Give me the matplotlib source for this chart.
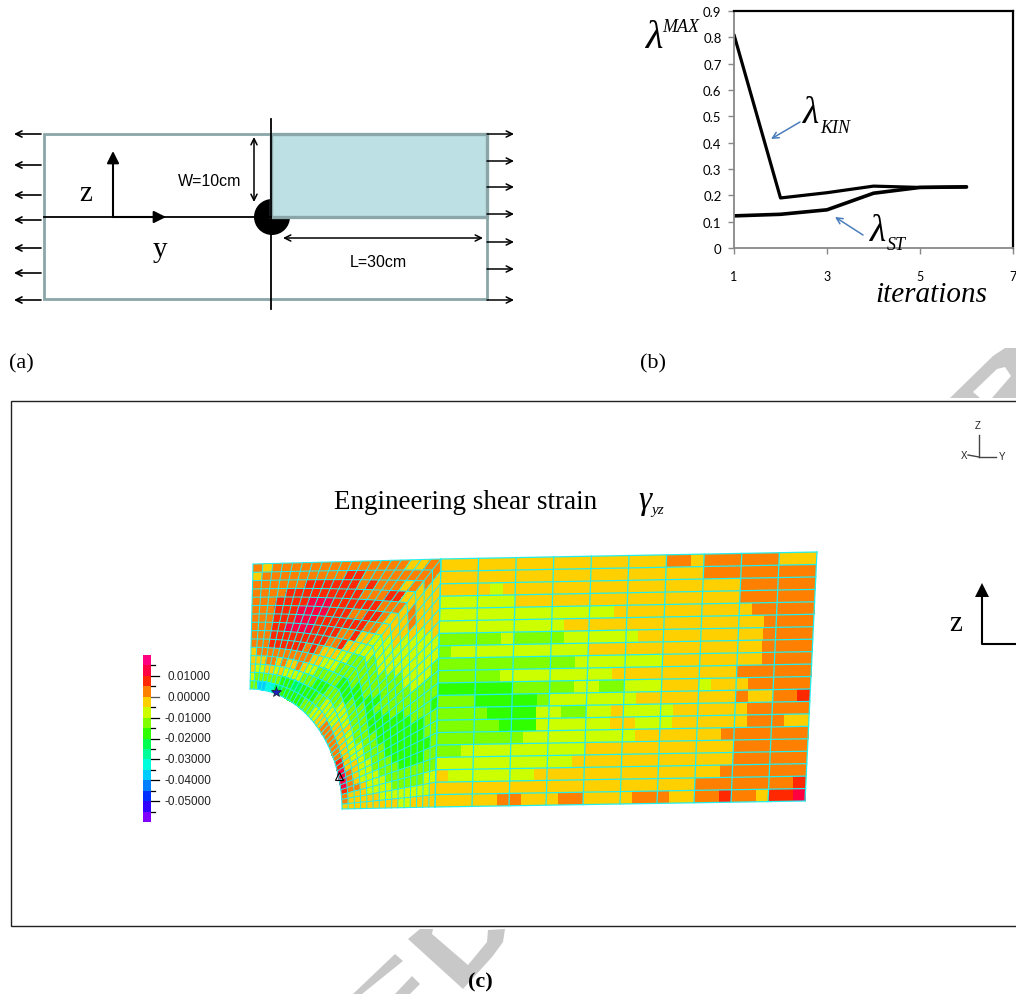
import numpy as np
import matplotlib
matplotlib.use('Agg')
import matplotlib.pyplot as plt
from matplotlib.colors import ListedColormap
from matplotlib.patches import Circle, Polygon, Rectangle

SERIF = 'Liberation Serif'
SANS = 'Liberation Sans'

# (b) convergence curves
iterations = [1, 2, 3, 4, 5, 6]
lambda_kin = [0.81, 0.19, 0.21, 0.235, 0.23, 0.232]
lambda_st = [0.122, 0.128, 0.145, 0.208, 0.23, 0.232]
y_ticks = [0, 0.1, 0.2, 0.3, 0.4, 0.5, 0.6, 0.7, 0.8, 0.9]
y_labels = ['0', '0.1', '0.2', '0.3', '0.4', '0.5', '0.6', '0.7', '0.8', '0.9']
x_ticks = [1, 3, 5, 7]

# (c) contour levels, top of the colour bar first
level_chars = 'PMROYLGgTSCBbnvV'
level_colors = ['#ff0080', '#ff0040', '#ff2800', '#ff8000', '#ffd000', '#ccff00', '#80ff00', '#30ff00',
                '#00ff50', '#00ff99', '#00ffdd', '#00ccff', '#0080ff', '#0030ff', '#3000ff', '#8000ff']
legend_labels = ['0.01000', '0.00000', '-0.01000', '-0.02000', '-0.03000', '-0.04000', '-0.05000']

# curved block round the hole: outermost layer first, left edge -> corner -> bottom edge
hole_cells = [
    'OYOOOOOOOOOOO' 'OOOYYOOYYYYYL' 'LGGGgGGGGGLYY',
    'YOOOOOOOOORRO' 'OOOOOOOYYYYLL' 'LLGGGGGgGGLLY',
    'OOOOOORRRRRRO' 'ROOOYOYYYYLLL' 'LLGGGggggGGLY',
    'OOOORRRRRRRRR' 'OOORRYYOOYLLL' 'LLGGGggggGGLY',
    'OOORRRRMMMRRR' 'RRROOOYYYLLLL' 'LGGGgggggGGLL',
    'OOORRRMMMMRRR' 'OORROYYYYLLLG' 'GGGggggggGGLL',
    'OOORRRMMMRRRR' 'RRROOYYLLLLGG' 'GGGgggggGGGLY',
    'OOORRMMMMRRRR' 'OORYYLLLLLGGG' 'GGgggggGGGLLY',
    'OOORRRRRRRRRO' 'ORYYLLLGGGGGg' 'GggggGGGGLLLY',
    'OOORRRRRROROY' 'YYLLGGGGGGGgg' 'gggGGGGGLLLYY',
    'YOOOOOOOOOOYY' 'LLLGGGGGgggGG' 'GGGGGGLLLLLYY',
    'YYYOOYOYYOYLL' 'GGGGGggggGGGG' 'GGGLLLLLLYYYY',
    'YLLYYLYLLLLGG' 'GgggGGGGLLLLY' 'LLLLLYYYYOYYY',
    'LGGGGGGgggTTg' 'gggGGLLLLLYYY' 'YYYYYYOOOOYYY',
    'GGBBCCTTggggg' 'gGGGLLYYOOOOO' 'OOORRMMMMROOY',
]

# straight block: top row first, three columns per element
bar_cells = [
    'YYYYYYYYYYYYYYYYYYOOYOOOOOOYYY',
    'YYYYYYYYYYYYYYYYYYYYYOOOOOOOOO',
    'YYYYLYYYYYYYYYYYYYYYYYYYOOOOOO',
    'LLLLLLYYYYYYYYYYYYYYYYYYOOOOOO',
    'LLLLLLLLLLLLLLYYYYYYYYYYYOOOOO',
    'LLLLLLLLLLYYYYYYYYYYYYYYYYOOOO',
    'GGGGGLGGGGLLLLLLYYYYYYYYYYOOOO',
    'GLLLLLLLLLLLYYYYYYYYYYYYYYOOOO',
    'GGGGGGGGGGGLLLLLLLYYYYYYYYOOOO',
    'GGGGGLLLLLLLLLYYYYYYYYYYOOOOOO',
    'ggggggGGGGGLLGGLLLYYYLYYYOOOOO',
    'GGGgggggGLLLLLLLYYYYYYYYOYYOOR',
    'GGGGggggLLGGLLYLLLLYYYYYYOOOOO',
    'GGGGGgggLLLLLLYYLLLYYYYYYOOOYY',
    'GGGGGGGLLLLLLLLLYYYYYYYOOOOOOO',
    'GGLLLLLLLLLLYYYYYYYYYYYYOOOOOO',
    'LLLLLLLLLLLYYYYYYYYYYYYYOOOOOO',
    'YLLLLLLLYYYYYYYYYYYYYYYOOOOOOO',
    'YYYYYYYYYYYYYYYYYYYYYOOOOOOOOR',
    'YYYYYOOYYYOOYYYYOOOYYOOROOYRRM',
]


def to_levels(rows):
    return np.array([[level_chars.index(c) for c in row] for row in rows])


def arrow(ax, start, end, style='<->', lw=1.1, color='black', scale=11):
    ax.annotate('', xy=end, xytext=start,
                arrowprops=dict(arrowstyle=style, lw=lw, color=color, mutation_scale=scale,
                                shrinkA=0, shrinkB=0))


W, H = 1016, 995
fig = plt.figure(figsize=(W / 100, H / 100), dpi=100)

# everything except the line chart is placed in picture pixels
ax = fig.add_axes([0, 0, 1, 1], zorder=2)
ax.set_xlim(0, W)
ax.set_ylim(H, 0)
ax.axis('off')

# watermark remains
wm = '#c8c8c8'
ax.add_patch(Polygon([(950, 399), (993, 357), (1005, 349), (1016, 349), (1016, 399)], fc=wm, ec='none', zorder=0))
ax.add_patch(Polygon([(973, 393), (997, 370), (1005, 368), (1011, 377), (992, 399), (980, 399)], fc='white', ec='none', zorder=0))
ax.add_patch(Polygon([(408, 940), (420, 930), (433, 930), (432, 935), (468, 966), (487, 943), (488, 931),
                      (505, 930), (503, 943), (492, 958), (463, 990)], fc=wm, ec='none', zorder=0))
ax.add_patch(Polygon([(395, 955), (403, 962), (362, 995), (353, 995)], fc=wm, ec='none', zorder=0))
ax.add_patch(Polygon([(412, 977), (420, 985), (410, 995), (395, 995)], fc=wm, ec='none', zorder=0))

# (a) specimen sketch
edge = '#8ba6a8'
ax.add_patch(Circle((272, 218), 18, fc='black', ec='none', zorder=1))
ax.add_patch(Rectangle((44, 135), 443, 165, fc='none', ec=edge, lw=2, zorder=2))
ax.add_patch(Rectangle((271, 135), 216, 83, fc='#bce0e3', ec=edge, lw=2.4, zorder=2))
ax.plot([271, 271], [120, 310], color='black', lw=1.3, zorder=3)
ax.plot([44, 271], [218, 218], color='black', lw=1.3, zorder=3)
arrow(ax, (113, 218), (113, 152), style='-|>', lw=1.5, scale=18)
arrow(ax, (113, 218), (166, 218), style='-|>', lw=1.5, scale=18)
arrow(ax, (254, 203), (254, 138))
arrow(ax, (283, 239), (483, 239))
for y in [135, 166, 196, 221, 249, 274, 301]:
    arrow(ax, (41, y), (14, y), style='->', lw=1.2)
for y in [135, 162, 188, 215, 243, 270, 301]:
    arrow(ax, (487, y), (514, y), style='->', lw=1.1)
ax.text(86, 201, 'z', family=SERIF, fontsize=21, ha='center', va='baseline')
ax.text(160, 257, 'y', family=SERIF, fontsize=21, ha='center', va='baseline')
ax.text(210, 186, 'W=10cm', family=SANS, fontsize=11.5, ha='center', va='baseline')
ax.text(378, 267, 'L=30cm', family=SANS, fontsize=11.5, ha='center', va='baseline')

ax.text(9, 368, '(a)', family=SERIF, fontsize=16, va='baseline')
ax.text(640, 368, '(b)', family=SERIF, fontsize=16, va='baseline')
ax.text(480, 987, '(c)', family=SERIF, fontsize=16, fontweight='bold', ha='center', va='baseline', zorder=3)

# (b) labels and arrows over the chart
arrow(ax, (800, 123), (771, 140), style='->', lw=1.1, color='#4a7ebb')
arrow(ax, (863, 236), (835, 218), style='->', lw=1.1, color='#4a7ebb')
ax.text(646, 48, 'λ', family=SERIF, style='italic', fontsize=29, va='baseline')
ax.text(662, 32, 'MAX', family=SERIF, style='italic', fontsize=13, va='baseline')
ax.text(803, 123, 'λ', family=SERIF, style='italic', fontsize=27, va='baseline')
ax.text(820, 133, 'KIN', family=SERIF, style='italic', fontsize=13, va='baseline')
ax.text(870, 241, 'λ', family=SERIF, style='italic', fontsize=27, va='baseline')
ax.text(887, 250, 'ST', family=SERIF, style='italic', fontsize=13, va='baseline')
ax.text(875, 302, 'iterations', family=SERIF, style='italic', fontsize=21, va='baseline')

# (c) frame and titles
ax.add_patch(Rectangle((11, 402), 1100, 525, fc='white', ec='#222222', lw=1, zorder=1))
ax.text(334, 509, 'Engineering shear strain', family=SERIF, fontsize=19.5, va='baseline', zorder=3)
ax.text(638, 509, 'γ', family=SERIF, style='italic', fontsize=24, va='baseline', zorder=3)
ax.text(651, 514, 'yz', family=SERIF, style='italic', fontsize=11, va='baseline', zorder=3)

# mesh geometry
mesh = '#22eeee'
cmap = ListedColormap(level_colors)
n_top, n_right, n_rad = 19, 20, 15
n_arc = n_top + n_right
corner_tl, corner_tr, corner_br = np.array([253., 565.]), np.array([441., 560.]), np.array([435., 808.])
outer = np.vstack([corner_tl + (corner_tr - corner_tl) * np.linspace(0, 1, n_top + 1)[:, None],
                   corner_tr + (corner_br - corner_tr) * np.linspace(0, 1, n_right + 1)[1:, None]])
a = np.linspace(0, np.pi / 2, n_arc + 1)
inner = np.column_stack([250 + 92 * np.sin(a), 810 - 120 * np.cos(a)])
t = np.linspace(0, 1, n_rad + 1)[:, None]
hole_x = outer[:, 0] + (inner[:, 0] - outer[:, 0]) * t
hole_y = outer[:, 1] + (inner[:, 1] - outer[:, 1]) * t
ax.pcolormesh(hole_x, hole_y, to_levels(hole_cells), cmap=cmap, vmin=0, vmax=16, zorder=3)
ax.plot(hole_x, hole_y, color=mesh, lw=0.75, zorder=4)
ax.plot(hole_x.T, hole_y.T, color=mesh, lw=0.75, zorder=4)

# straight block, colour cells are a third of an element wide
p00, p01, p10, p11 = np.array([441., 560.]), np.array([817., 553.]), np.array([435., 808.]), np.array([805., 802.])
u = np.linspace(0, 1, 31)
v = np.linspace(0, 1, 21)
uu, vv = np.meshgrid(u, v)
bar_x = (1 - vv) * ((1 - uu) * p00[0] + uu * p01[0]) + vv * ((1 - uu) * p10[0] + uu * p11[0])
bar_y = (1 - vv) * ((1 - uu) * p00[1] + uu * p01[1]) + vv * ((1 - uu) * p10[1] + uu * p11[1])
ax.pcolormesh(bar_x, bar_y, to_levels(bar_cells), cmap=cmap, vmin=0, vmax=16, zorder=3)
ax.plot(bar_x[:, ::3], bar_y[:, ::3], color=mesh, lw=0.9, zorder=4)
ax.plot(bar_x.T, bar_y.T, color=mesh, lw=0.9, zorder=4)

# nodes marked on the hole edge
ax.plot([276], [693], marker='*', ms=8, mfc='#2020c0', mec='#222222', mew=0.5, ls='none', zorder=5)
ax.plot([339], [777], marker='^', ms=6, mfc='none', mec='black', mew=0.8, ls='none', zorder=5)

# colour bar
bar_top, bar_bottom = 656, 823
step = (bar_bottom - bar_top) / len(level_colors)
for i, c in enumerate(level_colors):
    ax.add_patch(Rectangle((143, bar_top + i * step), 8, step, fc=c, ec='none', zorder=3))
for i in range(15):
    yy = bar_top + (i + 1) * step
    long_tick = i % 2 == 1
    ax.plot([151, 159 if long_tick else 155], [yy, yy], color='#555555' if i == 3 else 'black', lw=0.9, zorder=3)
    if long_tick:
        ax.text(211, yy, legend_labels[i // 2], family=SANS, fontsize=8.5,
                ha='right', va='center', color='#222222', zorder=3)

# axis triads on the right
ax.plot([979, 979], [436, 458], color='#444444', lw=1, zorder=3)
ax.plot([979, 996], [458, 458], color='#444444', lw=1, zorder=3)
ax.plot([968, 979], [456, 458], color='#444444', lw=1, zorder=3)
ax.text(978, 426, 'Z', family=SANS, fontsize=7, ha='center', va='center', color='#222222', zorder=3)
ax.text(964, 456, 'X', family=SANS, fontsize=7, ha='center', va='center', color='#222222', zorder=3)
ax.text(1002, 457, 'Y', family=SANS, fontsize=7, ha='center', va='center', color='#222222', zorder=3)
ax.plot([982, 982, 1016], [598, 645, 645], color='black', lw=1.5, zorder=3)
ax.add_patch(Polygon([(982, 584), (975, 598), (989, 598)], fc='black', ec='none', zorder=3))
ax.text(956, 631, 'z', family=SERIF, fontsize=21, ha='center', va='baseline', zorder=3)

# (b) line chart
chart = fig.add_axes([734 / W, 1 - 249 / H, (1013 - 734) / W, (249 - 12) / H], zorder=1)
chart.plot(iterations, lambda_kin, color='black', lw=2.3, solid_capstyle='round')
chart.plot(iterations, lambda_st, color='black', lw=2.6, solid_capstyle='round')
chart.set_xlim(1, 7)
chart.set_ylim(0, 0.9)
chart.set_xticks(x_ticks)
chart.set_yticks(y_ticks)
chart.set_yticklabels(y_labels)
for name in ['top', 'right']:
    chart.spines[name].set_color('black')
    chart.spines[name].set_linewidth(1.6)
for name in ['left', 'bottom']:
    chart.spines[name].set_color('#888888')
    chart.spines[name].set_linewidth(1.3)
chart.tick_params(axis='y', color='#888888', length=4, width=1, pad=5, labelsize=9.5)
chart.tick_params(axis='x', color='#888888', length=4, width=1, pad=11.5, labelsize=9)
for label in chart.get_xticklabels() + chart.get_yticklabels():
    label.set_family('Lato')

fig.savefig('out.png', dpi=100)
